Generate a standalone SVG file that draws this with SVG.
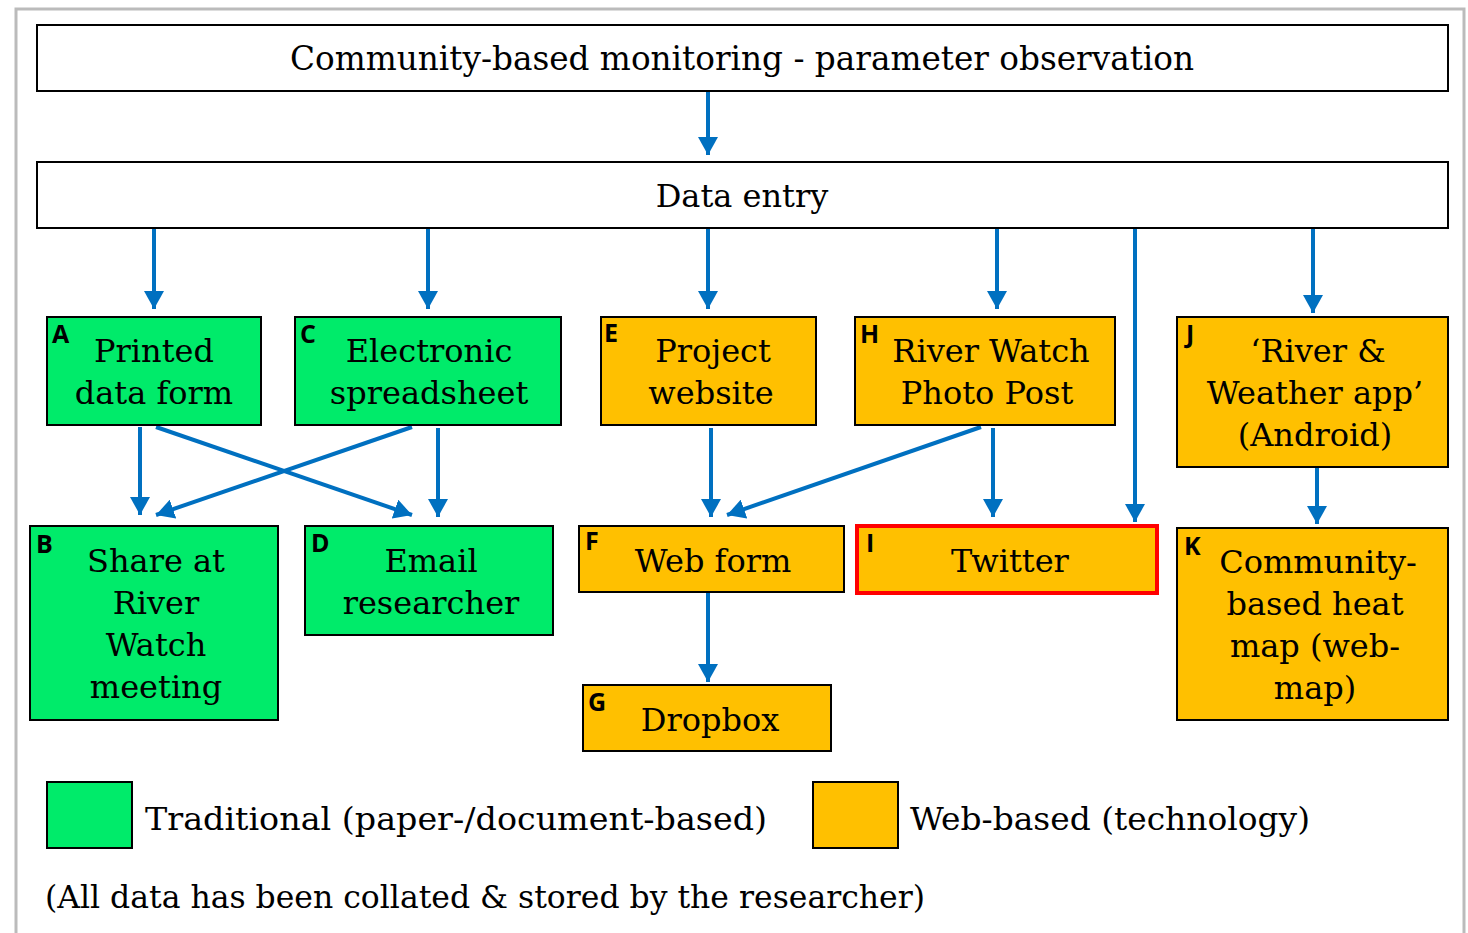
<svg xmlns="http://www.w3.org/2000/svg" width="1468" height="933" viewBox="0 0 1468 933">
<style>
.t{font-family:"DejaVu Serif","Liberation Serif",serif;font-size:32px;fill:#000;text-anchor:middle}
.tl{font-family:"DejaVu Serif","Liberation Serif",serif;font-size:32px;fill:#000}
.lb{font-family:"Open Sans","Liberation Sans",sans-serif;font-weight:bold;font-size:25px;fill:#000}
.g{fill:#00EB6A;stroke:#000;stroke-width:2}
.o{fill:#FFC000;stroke:#000;stroke-width:2}
.w{fill:#fff;stroke:#000;stroke-width:2}
.c{stroke:#0070C0;stroke-width:4;fill:none;marker-end:url(#ah)}
</style>
<defs>
<marker id="ah" markerUnits="userSpaceOnUse" markerWidth="20" markerHeight="20" refX="18" refY="10" orient="auto">
<path d="M0,0 L18,10 L0,20 z" fill="#0070C0"/>
</marker>
</defs>
<rect x="0" y="0" width="1468" height="933" fill="#fff"/>
<path d="M16,940 V9 H1464 V940" fill="none" stroke="#BBBBBB" stroke-width="3"/>

<g id="connectors">
<line class="c" x1="708" y1="92" x2="708" y2="155"/>
<line class="c" x1="154" y1="229" x2="154" y2="309"/>
<line class="c" x1="428" y1="229" x2="428" y2="309"/>
<line class="c" x1="708" y1="229" x2="708" y2="309"/>
<line class="c" x1="997" y1="229" x2="997" y2="309"/>
<line class="c" x1="1135" y1="229" x2="1135" y2="522"/>
<line class="c" x1="1313" y1="229" x2="1313" y2="313"/>
<line class="c" x1="140" y1="427" x2="140" y2="515"/>
<line class="c" x1="156" y1="427" x2="412" y2="515"/>
<line class="c" x1="412" y1="427" x2="156" y2="515"/>
<line class="c" x1="438" y1="428" x2="438" y2="517"/>
<line class="c" x1="711" y1="428" x2="711" y2="517"/>
<line class="c" x1="981" y1="427" x2="727" y2="515"/>
<line class="c" x1="993" y1="428" x2="993" y2="517"/>
<line class="c" x1="708" y1="593" x2="708" y2="682"/>
<line class="c" x1="1317" y1="468" x2="1317" y2="524"/>
</g>

<g id="title">
<rect class="w" x="37" y="25" width="1411" height="66"/>
<text class="tl" x="290" y="70" style="font-size:33px" textLength="904" lengthAdjust="spacingAndGlyphs">Community-based monitoring - parameter observation</text>
</g>
<g id="dataentry">
<rect class="w" x="37" y="162" width="1411" height="66"/>
<text class="t" x="742" y="207">Data entry</text>
</g>

<g id="A">
<rect class="g" x="47" y="317" width="214" height="108"/>
<text class="lb" x="52" y="343">A</text>
<text class="t" x="154" y="362">Printed</text>
<text class="t" x="154" y="404">data form</text>
</g>
<g id="C">
<rect class="g" x="295" y="317" width="266" height="108"/>
<text class="lb" x="300" y="343">C</text>
<text class="t" x="429" y="362">Electronic</text>
<text class="t" x="429" y="404">spreadsheet</text>
</g>
<g id="B">
<rect class="g" x="30" y="526" width="248" height="194"/>
<text class="lb" x="36" y="553">B</text>
<text class="t" x="156" y="572">Share at</text>
<text class="t" x="156" y="614">River</text>
<text class="t" x="156" y="656">Watch</text>
<text class="t" x="156" y="698">meeting</text>
</g>
<g id="D">
<rect class="g" x="305" y="526" width="248" height="109"/>
<text class="lb" x="311" y="552">D</text>
<text class="t" x="431" y="572">Email</text>
<text class="t" x="431" y="614">researcher</text>
</g>
<g id="E">
<rect class="o" x="601" y="317" width="215" height="108"/>
<text class="lb" x="604" y="342">E</text>
<text class="t" x="713" y="362">Project</text>
<text class="t" x="711" y="404">website</text>
</g>
<g id="H">
<rect class="o" x="855" y="317" width="260" height="108"/>
<text class="lb" x="860" y="343">H</text>
<text class="t" x="991" y="362">River Watch</text>
<text class="t" x="987" y="404">Photo Post</text>
</g>
<g id="J">
<rect class="o" x="1177" y="317" width="271" height="150"/>
<text class="lb" x="1186" y="343">J</text>
<text class="t" x="1318" y="362">‘River &amp;</text>
<text class="t" x="1315" y="404">Weather app’</text>
<text class="t" x="1315" y="446">(Android)</text>
</g>
<g id="F">
<rect class="o" x="579" y="526" width="265" height="66"/>
<text class="lb" x="585" y="550">F</text>
<text class="t" x="713" y="572">Web form</text>
</g>
<g id="I">
<rect x="857" y="526" width="300" height="67" fill="#FFC000" stroke="#FF0000" stroke-width="4"/>
<text class="lb" x="866" y="552">I</text>
<text class="t" x="1010" y="572">Twitter</text>
</g>
<g id="G">
<rect class="o" x="583" y="685" width="248" height="66"/>
<text class="lb" x="588" y="711">G</text>
<text class="t" x="710" y="731">Dropbox</text>
</g>
<g id="K">
<rect class="o" x="1177" y="528" width="271" height="192"/>
<text class="lb" x="1184" y="555">K</text>
<text class="t" x="1318" y="573">Community-</text>
<text class="t" x="1315" y="615">based heat</text>
<text class="t" x="1315" y="657">map (web-</text>
<text class="t" x="1315" y="699">map)</text>
</g>

<g id="legend">
<rect class="g" x="47" y="782" width="85" height="66"/>
<text class="tl" x="145" y="830" textLength="622" lengthAdjust="spacingAndGlyphs">Traditional (paper-/document-based)</text>
<rect class="o" x="813" y="782" width="85" height="66"/>
<text class="tl" x="910" y="830" textLength="400" lengthAdjust="spacingAndGlyphs">Web-based (technology)</text>
<text class="tl" x="45" y="908" textLength="880" lengthAdjust="spacingAndGlyphs">(All data has been collated &amp; stored by the researcher)</text>
</g>
</svg>
